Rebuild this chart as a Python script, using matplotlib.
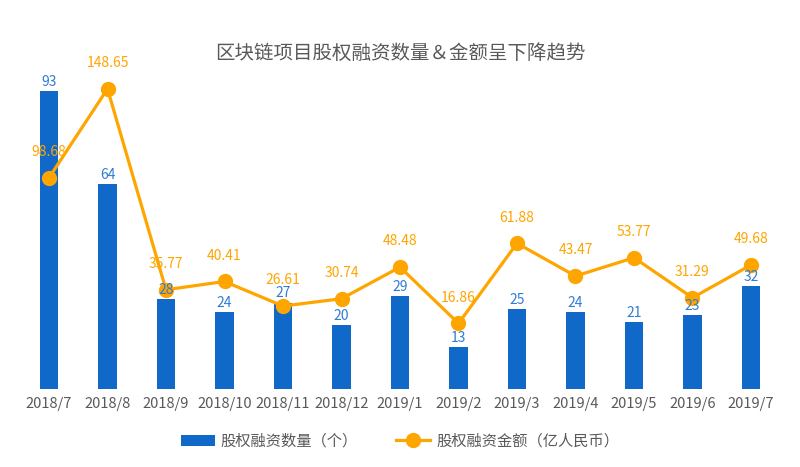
import matplotlib
matplotlib.use("Agg")
import matplotlib.pyplot as plt

plt.rcParams['font.family'] = ['Noto Sans CJK SC', 'DejaVu Sans']

months = ["2018/7", "2018/8", "2018/9", "2018/10", "2018/11", "2018/12",
          "2019/1", "2019/2", "2019/3", "2019/4", "2019/5", "2019/6", "2019/7"]
counts = [93, 64, 28, 24, 27, 20, 29, 13, 25, 24, 21, 23, 32]
amounts = [98.68, 148.65, 35.77, 40.41, 26.61, 30.74, 48.48, 16.86,
           61.88, 43.47, 53.77, 31.29, 49.68]

bar_col = "#1068C8"
line_col = "#FFA500"
gray = "#595959"

fig = plt.figure(figsize=(8, 4.67), dpi=100)
ax = fig.add_axes([0.0247, 0.167, 0.9506, 0.686])
ax2 = ax.twinx()

x = list(range(len(months)))
bars = ax.bar(x, counts, width=0.31, color=bar_col, label="股权融资数量（个）", zorder=2)
ax.set_ylim(0, 100)
ax.set_xlim(-0.5, len(months) - 0.5)

ln, = ax2.plot(x, amounts, color=line_col, lw=2.3, marker="o", markersize=10,
               label="股权融资金额（亿人民币）", zorder=3)
ax2.set_ylim(-20, 160)
for xi, v in zip(x, amounts):
    ax2.annotate(f"{v:.2f}", (xi, v), xytext=(0, 13.5), textcoords="offset points",
                 ha="center", va="bottom", color=line_col, fontsize=10)

# bar labels go on top of the line, like the original
for xi, v in zip(x, counts):
    ax2.annotate(str(v), (xi, v), xycoords=ax.transData, xytext=(0, 1.5),
                 textcoords="offset points", ha="center", va="bottom",
                 color="#2F7BD6", fontsize=10, zorder=5)

for a in (ax, ax2):
    for s in a.spines.values():
        s.set_visible(False)
    a.set_yticks([])
ax.set_xticks(x)
ax.set_xticklabels(months, color=gray, fontsize=10.5)
ax.tick_params(axis="x", length=0, pad=6)

fig.text(0.5, 0.885, "区块链项目股权融资数量＆金额呈下降趋势", ha="center", va="center",
         fontsize=14, color=gray)

fig.legend(handles=[bars, ln], loc="center", bbox_to_anchor=(0.5, 0.055), ncol=2,
           frameon=False, fontsize=11, labelcolor=gray, handlelength=2.2,
           columnspacing=2.5, handletextpad=0.4)

fig.savefig("out.png", dpi=100)
